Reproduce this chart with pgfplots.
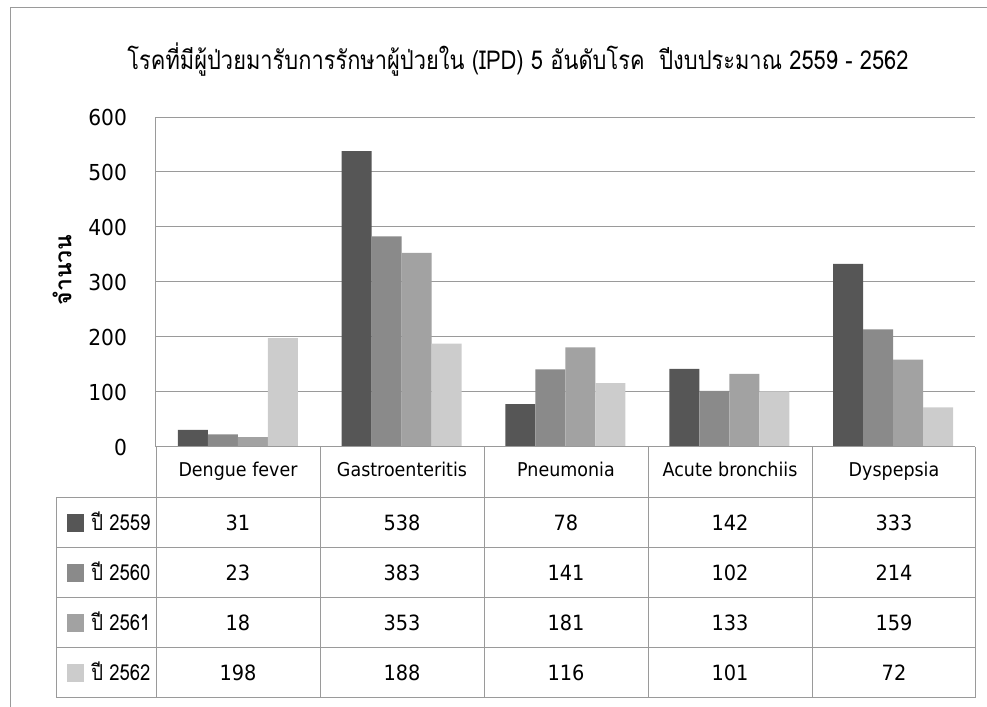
\documentclass[border=0pt]{standalone}
\usepackage{pgfplots}
\pgfplotsset{compat=1.18}
\usepackage{fontspec}
\setmainfont{Liberation Sans}
\newfontfamily\thaifont[Script=Thai]{Loma}
\newfontfamily\thaicond[Script=Thai,FakeStretch=0.84]{Loma}
\newfontfamily\numfont[FakeStretch=0.92]{DejaVu Sans}
\definecolor{sA}{HTML}{565656}
\definecolor{sB}{HTML}{8A8A8A}
\definecolor{sC}{HTML}{A2A2A2}
\definecolor{sD}{HTML}{CCCCCC}
\definecolor{gridc}{HTML}{9A9A9A}
\begin{document}
\begin{tikzpicture}
% page size
\path[use as bounding box] (0,0) rectangle (493.5pt,353.5pt);
\begin{axis}[
  at={(78pt,130pt)}, anchor=south west,
  scale only axis, width=409.5pt, height=165pt,
  ybar=0pt, bar width=15pt,
  xmin=0, xmax=5, ymin=0, ymax=600,
  ytick={0,100,...,600},
  xtick=\empty,
  axis x line=bottom, axis y line=left,
  axis line style={gridc, line width=0.5pt, -},
  ymajorgrids, grid style={gridc, line width=0.5pt},
  major tick length=0pt,
  tick label style={font=\numfont\fontsize{11}{12}\selectfont},
  /pgf/number format/assume math mode=true,
  yticklabel style={xshift=-11pt},
  clip=false,
]
\addplot[fill=sA, draw=none] coordinates {(0.5,31) (1.5,538) (2.5,78) (3.5,142) (4.5,333)};
\addplot[fill=sB, draw=none] coordinates {(0.5,23) (1.5,383) (2.5,141) (3.5,102) (4.5,214)};
\addplot[fill=sC, draw=none] coordinates {(0.5,18) (1.5,353) (2.5,181) (3.5,133) (4.5,159)};
\addplot[fill=sD, draw=none] coordinates {(0.5,198) (1.5,188) (2.5,116) (3.5,101) (4.5,72)};
\end{axis}
\begin{scope}[x=0.5pt, y=-0.5pt, shift={(0pt,353.5pt)}]
  % outer frame
  \draw[gridc, line width=0.5pt] (10,712) -- (10,8) -- (992,8);
  % title
  \node[font=\thaicond\fontsize{13}{15}\selectfont] at (518,60) {โรคที่มีผู้ป่วยมารับการรักษาผู้ป่วยใน (IPD) 5 อันดับโรค\ \ ปีงบประมาณ 2559 - 2562};
  % y label
  \node[font=\thaifont\bfseries\fontsize{11.5}{13}\selectfont, rotate=90] at (62,270) {จำนวน};
  % table lines
  \foreach \xx in {320,484,648,812,975} \draw[gridc, line width=0.5pt] (\xx,447) -- (\xx,698);
  \draw[gridc, line width=0.5pt] (156,447) -- (156,698);
  \draw[gridc, line width=0.5pt] (56,498) -- (56,698);
  \foreach \yy in {498,548,598,648,698} \draw[gridc, line width=0.5pt] (56,\yy) -- (975,\yy);
  \draw[gridc, line width=0.5pt] (156,447) -- (975,447);
  % header
  \foreach \nm [count=\i from 0] in {Dengue fever,Gastroenteritis,Pneumonia,Acute bronchiis,Dyspepsia}
    \node[font=\numfont\fontsize{9.5}{12}\selectfont, anchor=base] at ({238+164*\i},477) {\nm};
  % series rows
  \foreach \lab/\col/\yy/\vals in {2559/sA/523/{31,538,78,142,333},2560/sB/573/{23,383,141,102,214},2561/sC/623/{18,353,181,133,159},2562/sD/673/{198,188,116,101,72}} {
    \fill[\col] (67,\yy-9) rectangle (84,\yy+9);
    \node[font=\thaicond\fontsize{11}{12}\selectfont, anchor=base west, inner sep=0pt] at (91,\yy+8) {ปี \lab};
    \foreach \v [count=\i from 0] in \vals
      \node[font=\numfont\fontsize{10.5}{12}\selectfont, anchor=base] at ({238+164*\i},\yy+8) {\v};
  }
\end{scope}
\end{tikzpicture}
\end{document}
